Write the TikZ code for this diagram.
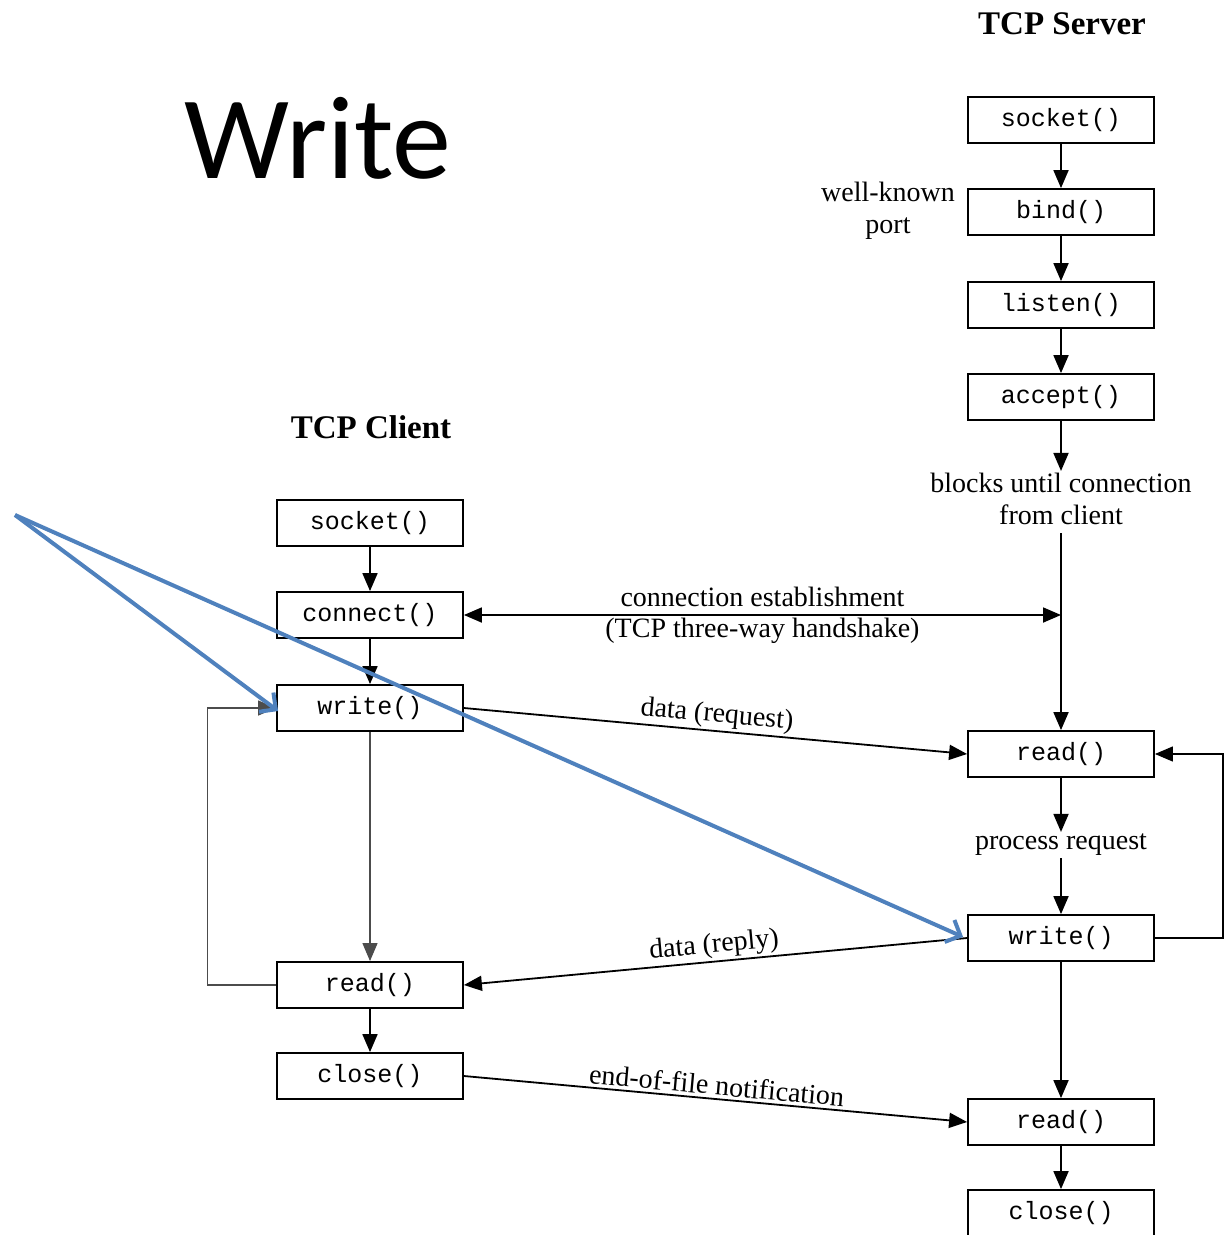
\documentclass[tikz,border=0pt]{standalone}
\usepackage{fontspec}
\setmainfont{Liberation Serif}
\setmonofont{Liberation Mono}
\newfontfamily\slidefont{Carlito}
\usetikzlibrary{arrows.meta,positioning}

\definecolor{slideblue}{RGB}{79,129,189}

\begin{document}
\begin{tikzpicture}[x=1pt, y=-1pt,
    callbox/.style={draw, line width=1.8pt, minimum width=186pt, minimum height=46pt,
        inner sep=0pt, font=\fontsize{25}{28}\selectfont\ttfamily},
    lbl/.style={font=\fontsize{28}{32}\selectfont, align=center, inner sep=2pt},
    flow/.style={line width=1.8pt, -{Triangle[length=18pt,width=15pt]}},
    thinflow/.style={line width=1.2pt, black!70, -{Triangle[length=18pt,width=15pt]}},
    pointer/.style={slideblue, line width=4pt, -{Straight Barb[length=12pt,width=24pt]}}]
    \useasboundingbox (0,0) rectangle (1230,1235);

    % Titles
    \node[font=\slidefont\fontsize{118}{124}\selectfont] (title) at (318,138) {Write};
    \node[font=\fontsize{33}{36}\selectfont\bfseries] (srvtitle) at (1062,24) {TCP Server};
    \node[font=\fontsize{33}{36}\selectfont\bfseries] (clititle) at (371,427) {TCP Client};

    % Server side
    \node[callbox] (ssocket) at (1061,120) {socket()};
    \node[callbox] (sbind) at (1061,212) {bind()};
    \node[callbox] (slisten) at (1061,305) {listen()};
    \node[callbox] (saccept) at (1061,397) {accept()};
    \node[lbl] (blocks) at (1061,499) {blocks until connection\\from client};
    \node[callbox] (sread) at (1061,754) {read()};
    \node[lbl] (proc) at (1061,845) {process request};
    \node[callbox] (swrite) at (1061,938) {write()};
    \node[callbox] (sread2) at (1061,1122) {read()};
    \node[callbox] (sclose) at (1061,1213) {close()};
    \node[lbl] (port) at (888,211) {well-known\\port};

    % Client side
    \node[callbox] (csocket) at (370,523) {socket()};
    \node[callbox] (cconnect) at (370,615) {connect()};
    \node[callbox] (cwrite) at (370,708) {write()};
    \node[callbox] (cread) at (370,985) {read()};
    \node[callbox] (cclose) at (370,1076) {close()};

    % Server flow
    \draw[flow] (ssocket) -- (sbind);
    \draw[flow] (sbind) -- (slisten);
    \draw[flow] (slisten) -- (saccept);
    \draw[flow] (saccept) -- (blocks);
    \coordinate (hs) at (blocks.south |- cconnect);
    \draw[flow] (blocks.south) ++(0,6) -- (sread);
    \draw[flow] (sread) -- (proc);
    \draw[flow] (proc) -- (swrite);
    \draw[flow] (swrite) -- (sread2);
    \draw[flow] (sread2) -- (sclose);
    \draw[line width=1.2pt, -{Triangle[length=18pt,width=15pt]}] (swrite.east) -- ++(68,0) |- (sread.east);

    % Client flow
    \draw[flow] (csocket) -- (cconnect);
    \draw[flow] (cconnect) -- (cwrite);
    \draw[thinflow] (cwrite) -- (cread);
    \draw[flow] (cread) -- (cclose);
    \draw[thinflow] (cread.west) -- ++(-69,0) |- (cwrite.west);

    % Between client and server
    \draw[line width=1.8pt, {Triangle[length=18pt,width=15pt]}-{Triangle[length=18pt,width=15pt]}]
        (cconnect.east) -- node[lbl, yshift=18pt] {connection establishment}
        node[lbl, yshift=-16pt] {(TCP three-way handshake)} (hs);
    \draw[flow] (cwrite.east) -- node[lbl, above, sloped] {data (request)} (sread.west);
    \draw[line width=1.8pt, {Triangle[length=18pt,width=15pt]}-] (cread.east) -- node[lbl, above, sloped] {data (reply)} (swrite.west);
    \draw[flow] (cclose.east) -- node[lbl, above=1pt, sloped] {end-of-file notification} (sread2.west);

    % Slide pointers
    \coordinate (origin) at (15,515);
    \draw[pointer] (origin) -- ([shift={(2,3)}]cwrite.west);
    \draw[pointer] (origin) -- ([shift={(-4,-1)}]swrite.west);
\end{tikzpicture}
\end{document}
